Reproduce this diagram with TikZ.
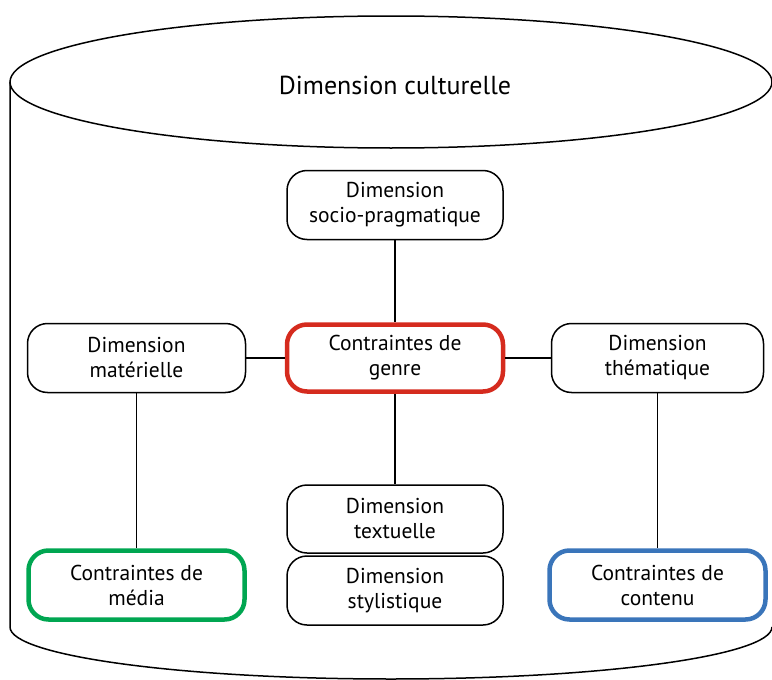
\documentclass[tikz,border=0pt]{standalone}
\usepackage{fontspec}
\setmainfont{PT Sans}
\usetikzlibrary{positioning}

\definecolor{genrered}{RGB}{213,43,30}
\definecolor{mediagreen}{RGB}{0,166,81}
\definecolor{contenublue}{RGB}{58,117,186}

\tikzset{
    dimbox/.style={draw, rounded corners=20pt, line width=1.5pt, align=center,
        inner sep=0pt, minimum width=216pt, minimum height=69pt,
        font=\fontsize{21.5}{25}\selectfont},
    contrbox/.style={dimbox, line width=4.5pt, minimum width=216pt, minimum height=67pt},
    link/.style={line width=1.5pt}
}

\begin{document}
\begin{tikzpicture}[x=1pt,y=-1pt]
    \useasboundingbox (0,0) rectangle (772,680);
    \draw[link] (391,82) ellipse [x radius=381, y radius=66];
    \draw[link] (10,82) -- (10,627) arc [start angle=180, end angle=0, x radius=381, y radius=52];
    \node[font=\fontsize{26}{30}\selectfont] (culture) at (395,85) {Dimension culturelle};
    \node[dimbox] (socio) at (395,205) {Dimension\\socio-pragmatique};
    \node[dimbox, minimum width=218pt] (materielle) at (136.5,358) {Dimension\\matérielle};
    \node[contrbox, draw=genrered] (genre) at (395,358) {Contraintes de\\genre};
    \node[dimbox, minimum width=212pt] (thematique) at (657.5,358) {Dimension\\thématique};
    \node[dimbox, minimum height=68pt] (textuelle) at (395,519) {Dimension\\textuelle};
    \node[dimbox, below=1.5pt of textuelle] (stylistique) {Dimension\\stylistique};
    \node[contrbox, draw=mediagreen, minimum height=69pt] (media) at (136.5,585) {Contraintes de\\média};
    \node[contrbox, draw=contenublue, minimum height=69pt] (contenu) at (657.5,585) {Contraintes de\\contenu};
    \draw[link] (socio) -- (genre);
    \draw[link] (materielle) -- (genre);
    \draw[link] (genre) -- (thematique);
    \draw[link] (genre) -- (textuelle);
    \draw[link] (materielle) -- (media);
    \draw[link] (thematique) -- (contenu);
\end{tikzpicture}
\end{document}
